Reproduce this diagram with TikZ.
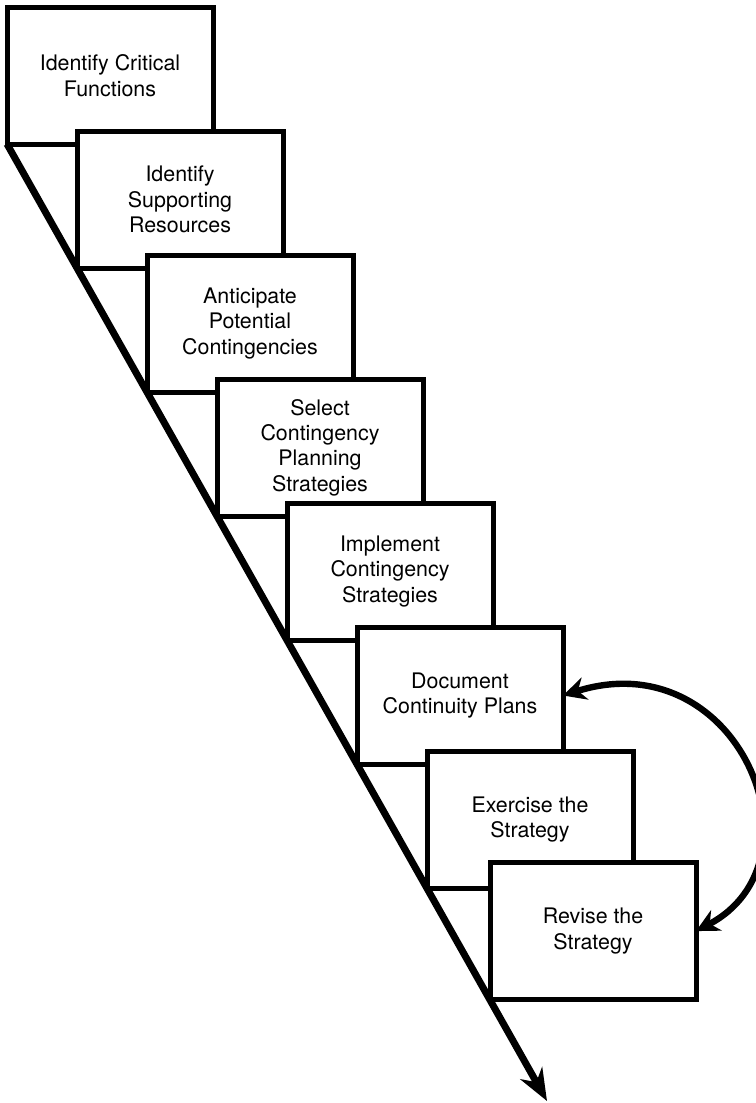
\documentclass[tikz,border=0pt]{standalone}
\usepackage{fontspec}
\setmainfont{TeX Gyre Heros}
\usetikzlibrary{calc, positioning}
\usetikzlibrary{arrows.meta}

\begin{document}
\begin{tikzpicture}[x=0.5pt, y=-0.5pt, >={Stealth[length=11.5pt, width=11.5pt]},
  stepbox/.style={draw, fill=white, line width=2.5pt, minimum width=103pt, minimum height=68.5pt,
    inner sep=0pt, outer sep=0pt, align=center, font=\fontsize{10.7}{12.7}\selectfont}]
\useasboundingbox (0,0) rectangle (755,1103);
\def\dx{70}
\def\dy{124}
\foreach \k/\txt [count=\i] in {0/{Identify Critical\\Functions}, 1/{Identify\\Supporting\\Resources},
    2/{Anticipate\\Potential\\Contingencies}, 3/{Select\\Contingency\\Planning\\Strategies},
    4/{Implement\\Contingency\\Strategies}, 5/{Document\\Continuity Plans},
    6/{Exercise the\\Strategy}, 6.9/{Revise the\\Strategy}}
  \node[stepbox] (s\i) at (110+\k*\dx, 75.5+\k*\dy) {\txt};
\coordinate (tip) at (547,1101);
\draw[line width=3.5pt, -{Stealth[length=16pt, width=12.5pt]}] (s1.south west) -- (tip);
\draw[line width=3.2pt, <->] (s6.east) .. controls +(175,-55) and +(133,-70) .. (s8.east);
\end{tikzpicture}
\end{document}
